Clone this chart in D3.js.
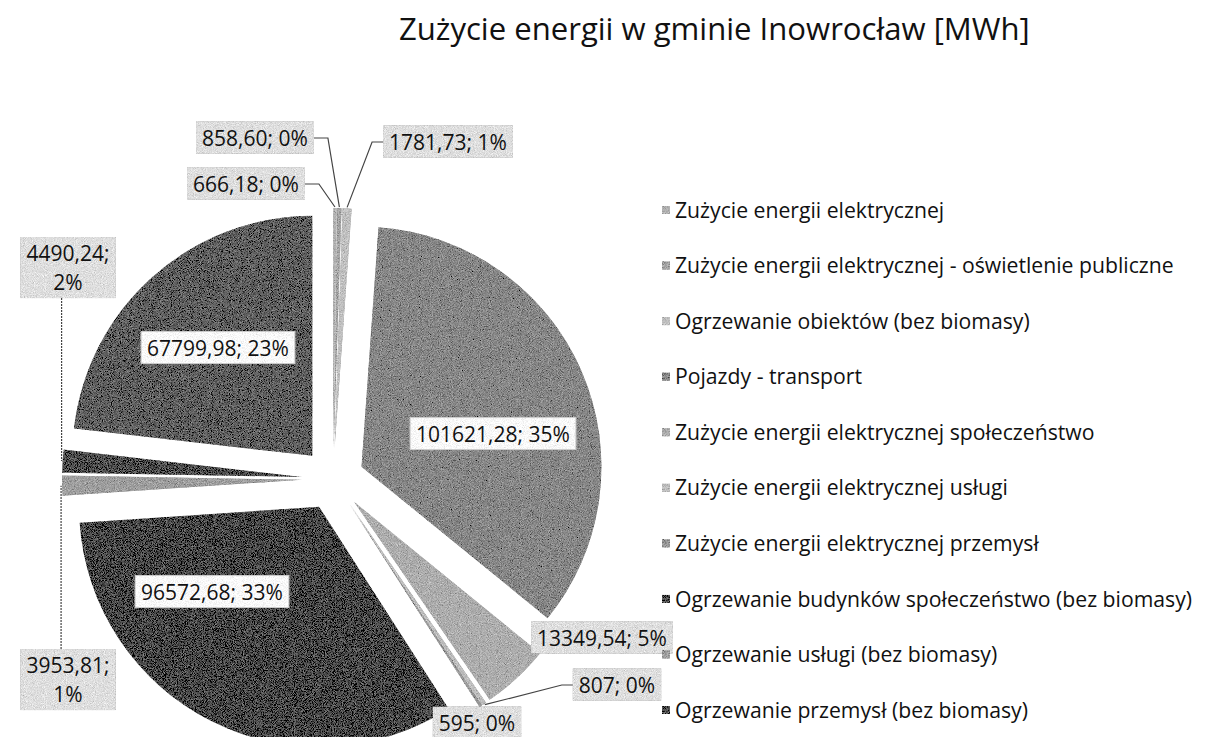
<!DOCTYPE html>
<html>
<head>
<meta charset="utf-8">
<script src="https://cdn.jsdelivr.net/npm/d3@7"></script>
<style>
  body { margin: 0; background: #fff; }
  text { font-family: "Open Sans", "Noto Sans", sans-serif; fill: #111; }
</style>
</head>
<body>
<script>
// chart title
var title = "Zużycie energii w gminie Inowrocław [MWh]";

// legend entries as visible in the source (the 11th entry is cut off at the bottom)
var legendLabels = [
  "Zużycie energii elektrycznej",
  "Zużycie energii elektrycznej - oświetlenie publiczne",
  "Ogrzewanie obiektów (bez biomasy)",
  "Pojazdy - transport",
  "Zużycie energii elektrycznej społeczeństwo",
  "Zużycie energii elektrycznej usługi",
  "Zużycie energii elektrycznej przemysł",
  "Ogrzewanie budynków społeczeństwo (bez biomasy)",
  "Ogrzewanie usługi (bez biomasy)",
  "Ogrzewanie przemysł (bez biomasy)"
];

// slice values in MWh, in series order (clockwise from 12 o'clock)
var values = [666.18, 858.60, 1781.73, 101621.28, 13349.54, 807, 595,
              96572.68, 3953.81, 4490.24, 67799.98];

// grey shades of the scanned slices
var shades = ["#a8a8a8", "#9a9a9a", "#b8b8b8", "#7a7a7a", "#a4a4a4", "#b4b4b4",
              "#8c8c8c", "#262626", "#949494", "#303030", "#4a4a4a"];

// where each data label sits (centre), its box style and leader side
var labelLayout = [
  {x: 246, y: 184, kind: "out", lead: "right"},
  {x: 255, y: 138, kind: "out", lead: "right"},
  {x: 448, y: 142, kind: "out", lead: "left"},
  {x: 493, y: 434, kind: "in"},
  {x: 602, y: 638, kind: "out"},
  {x: 617, y: 685, kind: "out", lead: "left"},
  {x: 477, y: 723, kind: "out"},
  {x: 212, y: 592, kind: "in"},
  {x: 68,  y: 680, kind: "out", lead: "top", wrap: true},
  {x: 68,  y: 268, kind: "out", lead: "bottom", wrap: true},
  {x: 218, y: 348, kind: "in"}
];

var svgWidth = 1205, svgHeight = 737;
var cx = 333, cy = 479, radius = 240, explode = 31;
var labelFont = 21, legendFont = 21.2;

var svg = d3.select("body").append("svg")
  .attr("width", svgWidth)
  .attr("height", svgHeight);

// scanner grain
var defs = svg.append("defs");
var grain = defs.append("filter").attr("id", "grain")
  .attr("x", "-5%").attr("y", "-5%").attr("width", "110%").attr("height", "110%");
grain.append("feTurbulence")
  .attr("type", "fractalNoise").attr("baseFrequency", 1.1)
  .attr("numOctaves", 2).attr("seed", 7).attr("result", "noise");
grain.append("feColorMatrix").attr("in", "noise").attr("type", "matrix")
  .attr("values", "0.33 0.33 0.33 0 0  0.33 0.33 0.33 0 0  0.33 0.33 0.33 0 0  0 0 0 0 1")
  .attr("result", "grey");
grain.append("feComposite").attr("in", "SourceGraphic").attr("in2", "grey")
  .attr("operator", "arithmetic").attr("k1", 0).attr("k2", 1).attr("k3", 1.1).attr("k4", -0.5)
  .attr("result", "mix");
grain.append("feComposite").attr("in", "mix").attr("in2", "SourceGraphic").attr("operator", "in");

// title, stretched to the width it has in the source
var titleText = svg.append("text")
  .attr("x", 399)
  .attr("y", 40)
  .attr("font-size", 30)
  .text(title);
var tw = titleText.node().getComputedTextLength();
titleText.attr("font-size", 30 * 631 / tw);

// pie
var total = d3.sum(values);
var arcs = d3.pie().sort(null).value(d => d).startAngle(0).endAngle(2 * Math.PI)(values);
var arc = d3.arc().innerRadius(0).outerRadius(radius);
var rimArc = d3.arc().innerRadius(radius + 1).outerRadius(radius + 1);

function shift(d) {
  var mid = (d.startAngle + d.endAngle) / 2;
  return [explode * Math.sin(mid), -explode * Math.cos(mid)];
}

var pieGroup = svg.append("g").attr("transform", `translate(${cx}, ${cy})`);

pieGroup.selectAll("path")
  .data(arcs)
  .enter()
  .append("path")
  .attr("d", arc)
  .attr("transform", d => `translate(${shift(d)})`)
  .attr("fill", (d, i) => shades[i])
  .attr("filter", "url(#grain)");

// data labels
function fmtValue(v) {
  return Number.isInteger(v) ? String(v) : v.toFixed(2).replace(".", ",");
}
function fmtPct(v) {
  return Math.round(v / total * 100) + "%";
}

var labelGroup = svg.append("g");

arcs.forEach(function(d, i) {
  var lay = labelLayout[i];
  var lines = lay.wrap
    ? [fmtValue(d.value) + ";", fmtPct(d.value)]
    : [fmtValue(d.value) + "; " + fmtPct(d.value)];
  var lineH = 29;
  var g = labelGroup.append("g");
  var box = g.append("rect");
  var t = g.append("text")
    .attr("text-anchor", "middle")
    .attr("font-size", labelFont);
  lines.forEach(function(line, k) {
    var yc = lay.y + (k - (lines.length - 1) / 2) * lineH;
    t.append("tspan")
      .attr("x", lay.x)
      .attr("y", yc + 0.36 * labelFont)
      .text(line);
  });
  var bb = t.node().getBBox();
  var bx = bb.x - 6, by = bb.y - 2, bw = bb.width + 12, bh = bb.height + 4;
  box.attr("x", bx).attr("y", by).attr("width", bw).attr("height", bh)
    .attr("fill", lay.kind === "in" ? "#f4f4f4" : "#d8d8d8")
    .attr("filter", "url(#grain)");
  if (lay.kind === "in") {
    g.append("rect").attr("x", bx).attr("y", by).attr("width", bw).attr("height", bh)
      .attr("fill", "none").attr("stroke", "#cfcfcf").attr("stroke-width", 1);
  }

  // leader line to the slice rim
  if (lay.lead) {
    var s = shift(d), c = rimArc.centroid(d);
    var end = [cx + s[0] + c[0], cy + s[1] + c[1]];
    var pts;
    if (lay.lead === "right") pts = [[bx + bw, lay.y], [bx + bw + 14, lay.y], end];
    else if (lay.lead === "left") pts = [[bx, lay.y], [bx - 11, lay.y], end];
    else if (lay.lead === "bottom") pts = [[end[0], by + bh], end];
    else pts = [[end[0], by], end];
    labelGroup.append("path")
      .attr("d", d3.line()(pts))
      .attr("fill", "none")
      .attr("stroke", "#444")
      .attr("stroke-width", 1.2)
      .attr("stroke-dasharray", lay.lead === "top" || lay.lead === "bottom" ? "2,1" : null);
  }
});

// legend
var legendY = d3.scaleLinear().domain([0, legendLabels.length - 1]).range([210, 710]);
var legend = svg.append("g");
var items = legend.selectAll("g")
  .data(legendLabels)
  .enter()
  .append("g")
  .attr("transform", (d, i) => `translate(662, ${legendY(i)})`);
items.append("rect")
  .attr("x", 0).attr("y", -4)
  .attr("width", 8).attr("height", 8)
  .attr("fill", (d, i) => shades[i])
  .attr("filter", "url(#grain)");
items.append("text")
  .attr("x", 13)
  .attr("y", 0)
  .attr("dy", "0.36em")
  .attr("font-size", legendFont)
  .text(d => d);
</script>
</body>
</html>
